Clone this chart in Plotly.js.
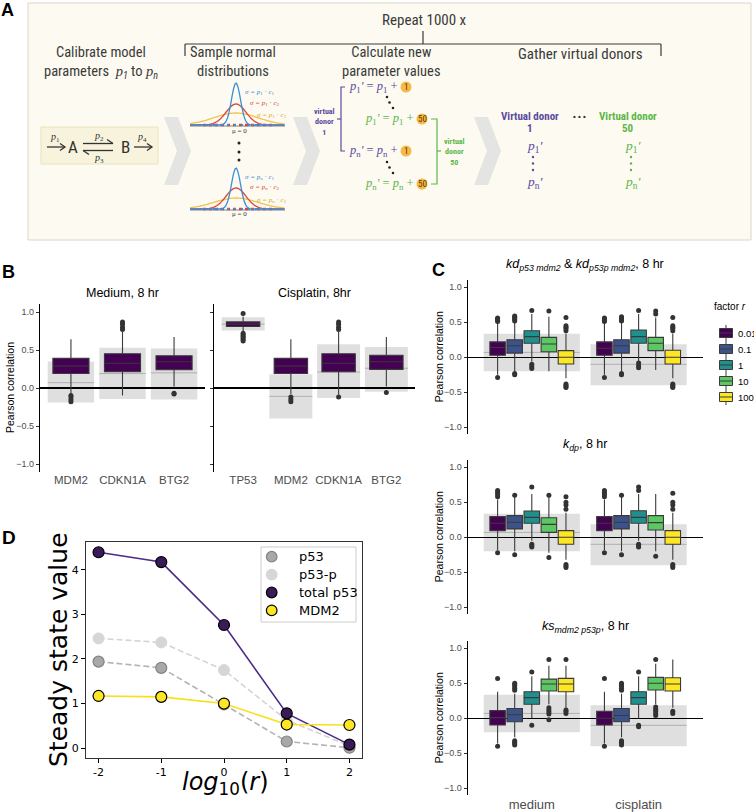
<!DOCTYPE html>
<html><head><meta charset="utf-8">
<script src="https://cdn.plot.ly/plotly-3.0.1.min.js"></script>
<style>html,body{margin:0;padding:0;background:#fff}#chart{width:754px;height:812px}</style>
</head><body><div id="chart"></div>
<script>
// ---------------- DATA ----------------
// Panel B
const genesMedium = ['MDM2','CDKN1A','BTG2'];
const genesCisplatin = ['TP53','MDM2','CDKN1A','BTG2'];
const bMedQ1  = [0.19, 0.215, 0.24];
const bMedMed = [0.29, 0.325, 0.345];
const bMedQ3  = [0.39, 0.45, 0.425];
const bMedLo  = [-0.08, -0.10, 0.02];
const bMedHi  = [0.64, 0.74, 0.67];
const bMedOut = [[-0.10,-0.12,-0.15,-0.18],[0.77,0.80,0.84,0.87],[-0.07,-0.08]];
const bMedRefLow  = [-0.19, -0.145, -0.15];
const bMedRefHigh = [0.35, 0.53, 0.52];
const bMedRefMid  = [0.07, 0.19, 0.20];
const bCisQ1  = [0.81, 0.19, 0.215, 0.245];
const bCisMed = [0.84, 0.29, 0.325, 0.345];
const bCisQ3  = [0.87, 0.39, 0.45, 0.43];
const bCisLo  = [0.74, -0.08, -0.09, 0.02];
const bCisHi  = [0.94, 0.64, 0.74, 0.67];
const bCisOut = [[0.98,0.72,0.70,0.68,0.66,0.64,0.62],[-0.12,-0.15,-0.18],[0.77,0.80,0.84,0.87,-0.12],[-0.06]];
const bCisRefLow  = [0.755, -0.40, -0.13, -0.05];
const bCisRefHigh = [0.93, 0.18, 0.575, 0.54];
const bCisRefMid  = [0.84, -0.11, 0.21, 0.26];

// Panel C
const factors = ['0.01','0.1','1','10','100'];
const conditions = ['medium','cisplatin'];
const refLow  = [-0.20, -0.40];
const refHigh = [0.335, 0.185];
const refMid  = [0.07, -0.10];
// kd p53 mdm2 & kd p53p mdm2
const kdQ1  = [[0.03,0.03],[0.06,0.06],[0.20,0.20],[0.08,0.095],[-0.095,-0.095]];
const kdMed = [[0.14,0.13],[0.165,0.165],[0.295,0.295],[0.19,0.20],[0.0,0.0]];
const kdQ3  = [[0.22,0.22],[0.25,0.25],[0.38,0.39],[0.285,0.285],[0.095,0.10]];
const kdLo  = [[-0.25,-0.25],[-0.20,-0.20],[-0.06,-0.06],[-0.20,-0.18],[-0.30,-0.30]];
const kdHi  = [[0.49,0.49],[0.50,0.50],[0.62,0.62],[0.58,0.57],[0.34,0.34]];
const kdOut = [[[0.51,0.53,0.55,0.56,-0.29],[0.51,0.53,0.55,0.56,-0.29]],
               [[0.52,0.54,0.56,0.58,0.59,-0.23,-0.25],[0.52,0.54,0.56,0.58,-0.23,-0.25]],
               [[0.67,-0.10,-0.13,-0.16],[0.67,-0.08,-0.12,-0.15]],
               [[0.66],[0.62,0.66]],
               [[0.38,0.41,0.43,0.45,0.57,-0.38,-0.40,-0.42,-0.43],[0.38,0.41,0.43,0.45,0.57,-0.38,-0.40,-0.42,-0.43]]];
// k dp
const kdpQ1  = [[0.095,0.095],[0.12,0.12],[0.20,0.20],[0.07,0.105],[-0.10,-0.10]];
const kdpMed = [[0.20,0.20],[0.215,0.215],[0.285,0.285],[0.185,0.21],[0.0,0.0]];
const kdpQ3  = [[0.295,0.295],[0.31,0.31],[0.375,0.38],[0.28,0.31],[0.095,0.095]];
const kdpLo  = [[-0.18,-0.18],[-0.20,-0.20],[-0.05,-0.05],[-0.22,-0.20],[-0.32,-0.32]];
const kdpHi  = [[0.54,0.54],[0.58,0.58],[0.62,0.62],[0.58,0.62],[0.35,0.35]];
const kdpOut = [[[0.58,0.61,0.64,0.67,-0.22],[0.58,0.61,0.64,0.67,-0.22]],
                [[0.60,-0.25],[0.60,-0.25]],
                [[0.72,-0.10,-0.12,-0.14],[0.67,0.72,-0.10,-0.12,-0.14]],
                [[0.60,-0.29],[-0.27]],
                [[0.40,0.46,0.50,0.58,-0.39,-0.41,-0.43],[0.40,0.46,0.50,0.63,-0.39,-0.41,-0.43]]];
// ks mdm2 p53p
const ksQ1  = [[-0.095,-0.095],[-0.05,-0.05],[0.20,0.20],[0.39,0.405],[0.38,0.39]];
const ksMed = [[0.01,0.0],[0.05,0.04],[0.295,0.295],[0.49,0.50],[0.49,0.49]];
const ksQ3  = [[0.11,0.10],[0.14,0.14],[0.38,0.38],[0.56,0.585],[0.57,0.58]];
const ksLo  = [[-0.36,-0.36],[-0.27,-0.27],[0.0,0.0],[0.20,0.20],[0.15,0.15]];
const ksHi  = [[0.38,0.38],[0.35,0.35],[0.60,0.60],[0.75,0.78],[0.75,0.84]];
const ksOut = [[[0.57,-0.40],[0.57,-0.40]],
               [[0.40,0.43,0.46,0.48,0.50,-0.32,-0.34,-0.36,-0.38],[0.40,0.43,0.46,0.48,0.50,-0.32,-0.34,-0.36,-0.38]],
               [[0.66,-0.10],[0.66,-0.10,-0.12]],
               [[0.84,0.15,0.12,0.09,0.06,-0.02],[0.84,0.16,0.13,0.10,0.07,0.04]],
               [[0.84,0.12,0.10,0.07],[0.10,0.07]]];

// Panel D
const logR = [-2,-1,0,1,2];
const p53 = [1.94,1.80,0.98,0.15,0.01];
const p53p = [2.46,2.37,1.75,0.63,0.05];
const totalP53 = [4.39,4.17,2.76,0.78,0.08];
const mdm2 = [1.17,1.15,1.00,0.53,0.52];
const dTicksY = [0,1,2,3,4];

// ---------------- HELPERS ----------------
const W=754,H=812;
const X=v=>v/W, Y=v=>1-v/H;
const FONT='Liberation Sans, Arial, Helvetica, sans-serif';
const NARROW='Liberation Sans Narrow, Roboto Condensed, Roboto, sans-serif';
const SERIF='Liberation Serif, Times New Roman, serif';
const DV='DejaVu Sans, sans-serif';
const shapes=[], annotations=[], traces=[];
function txt(text,x,y,font,o){annotations.push(Object.assign({text:text,x:X(x),y:Y(y),xref:'paper',yref:'paper',showarrow:false,xanchor:'center',yanchor:'middle',borderpad:0,font:font},o||{}));}
function F(fam,size,color){return {family:fam,size:size,color:color||'#000'};}
function rectP(x0,y0,x1,y1,fill,lc,lw){shapes.push({type:'rect',xref:'paper',yref:'paper',x0:X(x0),x1:X(x1),y0:Y(y1),y1:Y(y0),fillcolor:fill,line:{color:lc||'rgba(0,0,0,0)',width:lw||0},layer:'above'});}
function lineP(x0,y0,x1,y1,c,w,dash){shapes.push({type:'line',xref:'paper',yref:'paper',x0:X(x0),x1:X(x1),y0:Y(y0),y1:Y(y1),line:{color:c,width:w||1,dash:dash||'solid'},layer:'above'});}
function pathP(pts,closed,fill,c,w){shapes.push({type:'path',xref:'paper',yref:'paper',path:'M '+pts.map(p=>X(p[0]).toFixed(5)+','+Y(p[1]).toFixed(5)).join(' L ')+(closed?' Z':''),fillcolor:fill||'rgba(0,0,0,0)',line:{color:c||'rgba(0,0,0,0)',width:w||0},layer:'above'});}
function circP(cx,cy,r,fill,lc,lw){shapes.push({type:'circle',xref:'paper',yref:'paper',x0:X(cx-r),x1:X(cx+r),y0:Y(cy+r),y1:Y(cy-r),fillcolor:fill,line:{color:lc||'rgba(0,0,0,0)',width:lw||0},layer:'above'});}

// ---------------- PANEL A (schematic) ----------------
const PUR='#5c4a9e', GRN='#5cb648', ORG='#f6b848', HD='#3a3a3a';
rectP(28,3,751,240,'#fcfaf1','#d9d6cc',1);
txt('<b>A</b>',7,10,F(FONT,18));
txt('Repeat 1000 x',424,20,F(NARROW,15,HD));
lineP(185,44,661,44,HD,1.2); lineP(185,44,185,56,HD,1.2); lineP(661,44,661,56,HD,1.2); lineP(423,31,423,44,HD,1.2);
const pI=s=>'<span style="font-family:Liberation Serif"><i>p</i></span><sub><i>'+s+'</i></sub>';
txt('Calibrate model<br>parameters  '+pI('1')+' to '+pI('n'),101,63,F(NARROW,14.5,HD));
txt('Sample normal<br>distributions',233,62.5,F(NARROW,14.5,HD));
txt('Calculate new<br>parameter values',391,62.5,F(NARROW,14.5,HD));
txt('Gather virtual donors',580,54,F(NARROW,15,HD));
// reaction box
rectP(41,127,158,164,'#f8f3dc','#ece2bd',1);
function arrowR(x0,x1,y){lineP(x0,y,x1,y,'#333',1.3);pathP([[x1-5,y-3.5],[x1,y],[x1-5,y+3.5]],false,null,'#333',1.3);}
arrowR(47,65,147); arrowR(134,152,147);
lineP(83,143.5,113,143.5,'#333',1.3); pathP([[107,139.5],[113,143.5]],false,null,'#333',1.3);
lineP(83,150.5,113,150.5,'#333',1.3); pathP([[89,154.5],[83,150.5]],false,null,'#333',1.3);
txt('A',73,147,F(NARROW,17,'#333'));
txt('B',125,147,F(NARROW,17,'#333'));
const pS=s=>'<i>p</i><sub>'+s+'</sub>';
txt(pS('1'),55,137,F(SERIF,10,'#333'));
txt(pS('2'),99,136,F(SERIF,10,'#333'));
txt(pS('3'),99,158,F(SERIF,10,'#333'));
txt(pS('4'),142,137,F(SERIF,10,'#333'));
// chevrons
[164,293,474].forEach(x0=>pathP([[x0,117],[x0+14,117],[x0+27,151],[x0+14,185],[x0,185],[x0+13,151]],true,'#e4e4e2'));
// gaussian icons
function gauss(cx,base,peak,sig,col){const pts=[];for(let x=190;x<=285;x+=1.5){pts.push([x,base-(base-peak)*Math.exp(-((x-cx)*(x-cx))/(2*sig*sig))]);}pathP(pts,false,null,col,1.3);}
[[125,83,104,113,131,'1'],[209,168,188,198,214,'n']].forEach(g=>{
  const [b,pb,pr,py,mu,s]=g;
  lineP(190,b+1,285,b+1,'#666',0.8);
  lineP(203,b,272,b,'#d9463b',2.5,'dot');
  lineP(199,b,276,b,'#3d8fd6',2,'2px,5px');
  gauss(236,b,py,22,'#f2c14e'); gauss(236,b,pr,10,'#d9463b'); gauss(236,b,pb,4.5,'#3d8fd6');
  txt('μ = 0',239,mu,F(SERIF,7,'#333'));
  const sg=c=>'<i>σ = p</i><sub>'+s+'</sub> · <i>c</i><sub>'+c+'</sub>';
  txt(sg('1'),244,pb+9,F(SERIF,7,'#3d8fd6'),{xanchor:'left'});
  txt(sg('2'),249,pr-1,F(SERIF,7,'#d9463b'),{xanchor:'left'});
  txt(sg('3'),256,py+2,F(SERIF,7,'#e0a830'),{xanchor:'left'});
});
[143,152,160].forEach(y=>circP(239,y,1.5,'#222'));
// equations
function eq(xr,y,sub,col,num,cx){
  txt('<i>p</i><sub>'+sub+'</sub><i>\'</i> = <i>p</i><sub>'+sub+'</sub> +',xr,y,F(SERIF,12.5,col),{xanchor:'right'});
  circP(cx,y,5.5,ORG);
  txt(num,cx,y,F(NARROW,9,'#5a3d00'));
}
eq(398,87,'1',PUR,'1',406); eq(414,119,'1',GRN,'50',422); eq(398,151,'n',PUR,'1',406); eq(414,184,'n',GRN,'50',422);
[[387,97],[389.5,102.5],[393,108],[387,162],[389.5,167.5],[393,173]].forEach(p=>circP(p[0],p[1],1.3,'#222'));
pathP([[345,87],[341,87],[341,151],[345,151]],false,null,PUR,1.2); lineP(337,119,341,119,PUR,1.2);
txt('<b>virtual<br>donor<br>1</b>',324,122,F(NARROW,8,PUR));
pathP([[431,119],[437,119],[437,184],[431,184]],false,null,GRN,1.2); lineP(437,151,441,151,GRN,1.2);
txt('<b>virtual<br>donor<br>50</b>',454,152,F(NARROW,8,GRN));
txt('<b>Virtual donor</b>',530,117,F(NARROW,11,PUR)); txt('<b>1</b>',530,128,F(NARROW,11,PUR));
txt('<b>• • •</b>',579,117,F(FONT,8,'#333'));
txt('<b>Virtual donor</b>',628,117,F(NARROW,11,GRN)); txt('<b>50</b>',628,128,F(NARROW,11,GRN));
[[533,PUR],[631,GRN]].forEach(v=>{
  txt('<i>p</i><sub>1</sub><i>\'</i>',v[0]+2,146,F(SERIF,13.5,v[1]));
  [157,163.5,170].forEach(y=>circP(v[0],y,1.2,v[1]));
  txt('<i>p</i><sub>n</sub><i>\'</i>',v[0]+2,182,F(SERIF,13.5,v[1]));
});

// ---------------- PANEL B ----------------
const BOXLINE='#3a3a3a';
function refShapes(xr,yr,lows,highs,mids,half){
  lows.forEach((lo,i)=>{
    shapes.push({type:'rect',xref:xr,yref:yr,x0:i+1-half,x1:i+1+half,y0:lo,y1:highs[i],fillcolor:'#dfdfdf',line:{width:0},layer:'below'});
    shapes.push({type:'line',xref:xr,yref:yr,x0:i+1-half,x1:i+1+half,y0:mids[i],y1:mids[i],line:{color:'#b0b0b0',width:1},layer:'below'});
  });
}
function outTrace(xa,ya,pos,outs){const xs=[],ys=[];outs.forEach((arr,i)=>arr.forEach(v=>{xs.push(pos[i]);ys.push(v);}));
  traces.push({type:'scatter',mode:'markers',xaxis:xa,yaxis:ya,x:xs,y:ys,marker:{color:'#333',size:5},hoverinfo:'skip',showlegend:false});}
refShapes('x','y',bMedRefLow,bMedRefHigh,bMedRefMid,0.45);
refShapes('x2','y2',bCisRefLow,bCisRefHigh,bCisRefMid,0.45);
const posMed=genesMedium.map((g,i)=>i+1), posCis=genesCisplatin.map((g,i)=>i+1);
traces.push({type:'box',xaxis:'x',yaxis:'y',x:posMed,q1:bMedQ1,median:bMedMed,q3:bMedQ3,lowerfence:bMedLo,upperfence:bMedHi,width:0.7,fillcolor:'#440154',line:{color:BOXLINE,width:1.1},whiskerwidth:0,hoverinfo:'skip',showlegend:false});
traces.push({type:'box',xaxis:'x2',yaxis:'y2',x:posCis,q1:bCisQ1,median:bCisMed,q3:bCisQ3,lowerfence:bCisLo,upperfence:bCisHi,width:0.7,fillcolor:'#440154',line:{color:BOXLINE,width:1.1},whiskerwidth:0,hoverinfo:'skip',showlegend:false});
outTrace('x','y',posMed,bMedOut);
outTrace('x2','y2',posCis,bCisOut);

// ---------------- PANEL C ----------------
const viridis=['#440154','#3b528b','#21908c','#5dc863','#fde725'];
const cSets=[[kdQ1,kdMed,kdQ3,kdLo,kdHi,kdOut],[kdpQ1,kdpMed,kdpQ3,kdpLo,kdpHi,kdpOut],[ksQ1,ksMed,ksQ3,ksLo,ksHi,ksOut]];
cSets.forEach((set,s)=>{
  const xa='x'+(3+s), ya='y'+(3+s);
  refShapes(xa,ya,refLow,refHigh,refMid,0.45);
  const [q1,md,q3,lo,hi,out]=set;
  factors.forEach((f,k)=>{
    const pos=conditions.map((c,i)=>i+1+(k-2)*0.16);
    traces.push({type:'box',xaxis:xa,yaxis:ya,x:pos,q1:q1[k],median:md[k],q3:q3[k],lowerfence:lo[k],upperfence:hi[k],width:0.145,fillcolor:viridis[k],line:{color:BOXLINE,width:1.1},whiskerwidth:0,hoverinfo:'skip',showlegend:false,name:f});
    outTrace(xa,ya,pos,out[k]);
  });
});

// ---------------- PANEL D ----------------
traces.push({type:'scatter',mode:'lines+markers',xaxis:'x6',yaxis:'y6',x:logR,y:p53p,line:{color:'#d4d4d4',width:1.6,dash:'6px,3px'},marker:{size:11,color:'#d6d6d6',line:{color:'#d6d6d6',width:1}},hoverinfo:'skip',showlegend:false});
traces.push({type:'scatter',mode:'lines+markers',xaxis:'x6',yaxis:'y6',x:logR,y:p53,line:{color:'#b3b3b3',width:1.6,dash:'6px,3px'},marker:{size:11,color:'#a8a8a8',line:{color:'#838383',width:1.2}},hoverinfo:'skip',showlegend:false});
traces.push({type:'scatter',mode:'lines+markers',xaxis:'x6',yaxis:'y6',x:logR,y:totalP53,line:{color:'#4d2c88',width:1.6},marker:{size:11,color:'#3b1a5a',line:{color:'#000',width:1.2}},hoverinfo:'skip',showlegend:false});
traces.push({type:'scatter',mode:'lines+markers',xaxis:'x6',yaxis:'y6',x:logR,y:mdm2,line:{color:'#f7e01a',width:1.6},marker:{size:11,color:'#fde725',line:{color:'#000',width:1.2}},hoverinfo:'skip',showlegend:false});

// ---------------- LAYOUT ----------------
function yAx(top,bot,labels){return {domain:[Y(bot),Y(top)],range:[-1.1,1.1],tickvals:[-1,-0.5,0,0.5,1],tickformat:'.1f',showticklabels:labels,ticks:'outside',ticklen:3,tickwidth:1,tickcolor:'#333',tickfont:F(FONT,9,'#4d4d4d'),showline:true,linecolor:'#000',linewidth:1.1,showgrid:false,zeroline:true,zerolinecolor:'#000',zerolinewidth:1.1,automargin:false,fixedrange:true};}
function xAx(l,r,range,labels,anchor,size,show){return {domain:[X(l),X(r)],range:range,tickvals:labels.map((g,i)=>i+1),ticktext:labels,showticklabels:show,ticks:'',tickfont:F(FONT,size,'#4d4d4d'),showline:false,showgrid:false,zeroline:false,anchor:anchor,automargin:false,fixedrange:true};}
const layout={width:W,height:H,margin:{l:0,r:0,t:0,b:0},paper_bgcolor:'#fff',plot_bgcolor:'rgba(0,0,0,0)',showlegend:false,boxmode:'overlay',
  xaxis:xAx(40,205,[0.4,3.6],genesMedium,'y',11.5,true),
  yaxis:Object.assign(yAx(304.4,471.6,true),{anchor:'x'}),
  xaxis2:xAx(214,415,[0.39,4.6],genesCisplatin,'y2',11.5,true),
  yaxis2:Object.assign(yAx(304.4,471.6,false),{anchor:'x2'}),
  xaxis3:xAx(467.7,702.7,[0.4,2.6],conditions,'y3',13,false),
  yaxis3:Object.assign(yAx(280.3,434.3,true),{anchor:'x3'}),
  xaxis4:xAx(467.7,702.7,[0.4,2.6],conditions,'y4',13,false),
  yaxis4:Object.assign(yAx(460.3,614.3,true),{anchor:'x4'}),
  xaxis5:xAx(467.7,702.7,[0.4,2.6],conditions,'y5',13,true),
  yaxis5:Object.assign(yAx(641.3,795.3,true),{anchor:'x5'}),
  xaxis6:{domain:[X(86),X(362)],range:[-2.2,2.2],tickvals:logR,ticktext:logR.map(String),ticks:'outside',ticklen:4,tickwidth:1,tickcolor:'#000',tickfont:F(DV,11,'#000'),showline:true,mirror:true,linecolor:'#333',linewidth:1,showgrid:false,zeroline:false,anchor:'y6',automargin:false,fixedrange:true},
  yaxis6:{domain:[Y(758),Y(542)],range:[-0.22,4.62],tickvals:dTicksY,ticktext:dTicksY.map(String),ticks:'outside',ticklen:4,tickwidth:1,tickcolor:'#000',tickfont:F(DV,11,'#000'),showline:true,mirror:true,linecolor:'#333',linewidth:1,showgrid:false,zeroline:false,anchor:'x6',automargin:false,fixedrange:true},
  shapes:shapes,annotations:annotations};

// panel labels and titles
txt('<b>B</b>',8,272,F(FONT,18));
txt('<b>C</b>',438,270,F(FONT,18));
txt('<b>D</b>',9,537,F(FONT,19));
txt('Medium, 8 hr',122.5,293,F(FONT,12.5));
txt('Cisplatin, 8hr',314.5,293,F(FONT,12.5));
txt('Pearson correlation',10,388,F(FONT,10.5),{textangle:-90});
txt('<i>kd</i><sub><i>p53 mdm2</i></sub> &amp; <i>kd</i><sub><i>p53p mdm2</i></sub>, 8 hr',585,265,F(FONT,12.5));
txt('<i>k</i><sub><i>dp</i></sub>, 8 hr',585,445,F(FONT,12.5));
txt('<i>ks</i><sub><i>mdm2 p53p</i></sub>, 8 hr',585,627,F(FONT,12.5));
[357.3,537.3,718.3].forEach(y=>txt('Pearson correlation',439,y,F(FONT,10.5),{textangle:-90}));
// C legend (manual)
txt('factor <i>r</i>',713,306,F(FONT,10),{xanchor:'left'});
factors.forEach((f,k)=>{const yc=333+16*k;
  lineP(726,yc-8,726,yc+8,BOXLINE,1);
  rectP(719.5,yc-4.5,732.5,yc+4.5,viridis[k],BOXLINE,1);
  lineP(719.5,yc,732.5,yc,BOXLINE,1);
  txt(f,737,yc,F(FONT,9.5),{xanchor:'left'});
});
// D titles and legend
txt('Steady state value',58,650,F(DV,25),{textangle:-90});
txt('<i>log</i><sub>10</sub>(<i>r</i>)',225,783,F(DV,24));
rectP(261,547,356,622,'rgba(255,255,255,0.85)','#cccccc',1);
const dLeg=[['p53','#a8a8a8','#838383'],['p53-p','#d6d6d6','#d6d6d6'],['total p53','#3b1a5a','#000'],['MDM2','#fde725','#000']];
dLeg.forEach((e,i)=>{const yc=556.7+17.9*i; circP(271.7,yc,5.3,e[1],e[2],1.2); txt(e[0],298,yc,F(DV,13),{xanchor:'left'});});

Plotly.newPlot('chart',traces,layout,{displayModeBar:false,staticPlot:true});
</script></body></html>
